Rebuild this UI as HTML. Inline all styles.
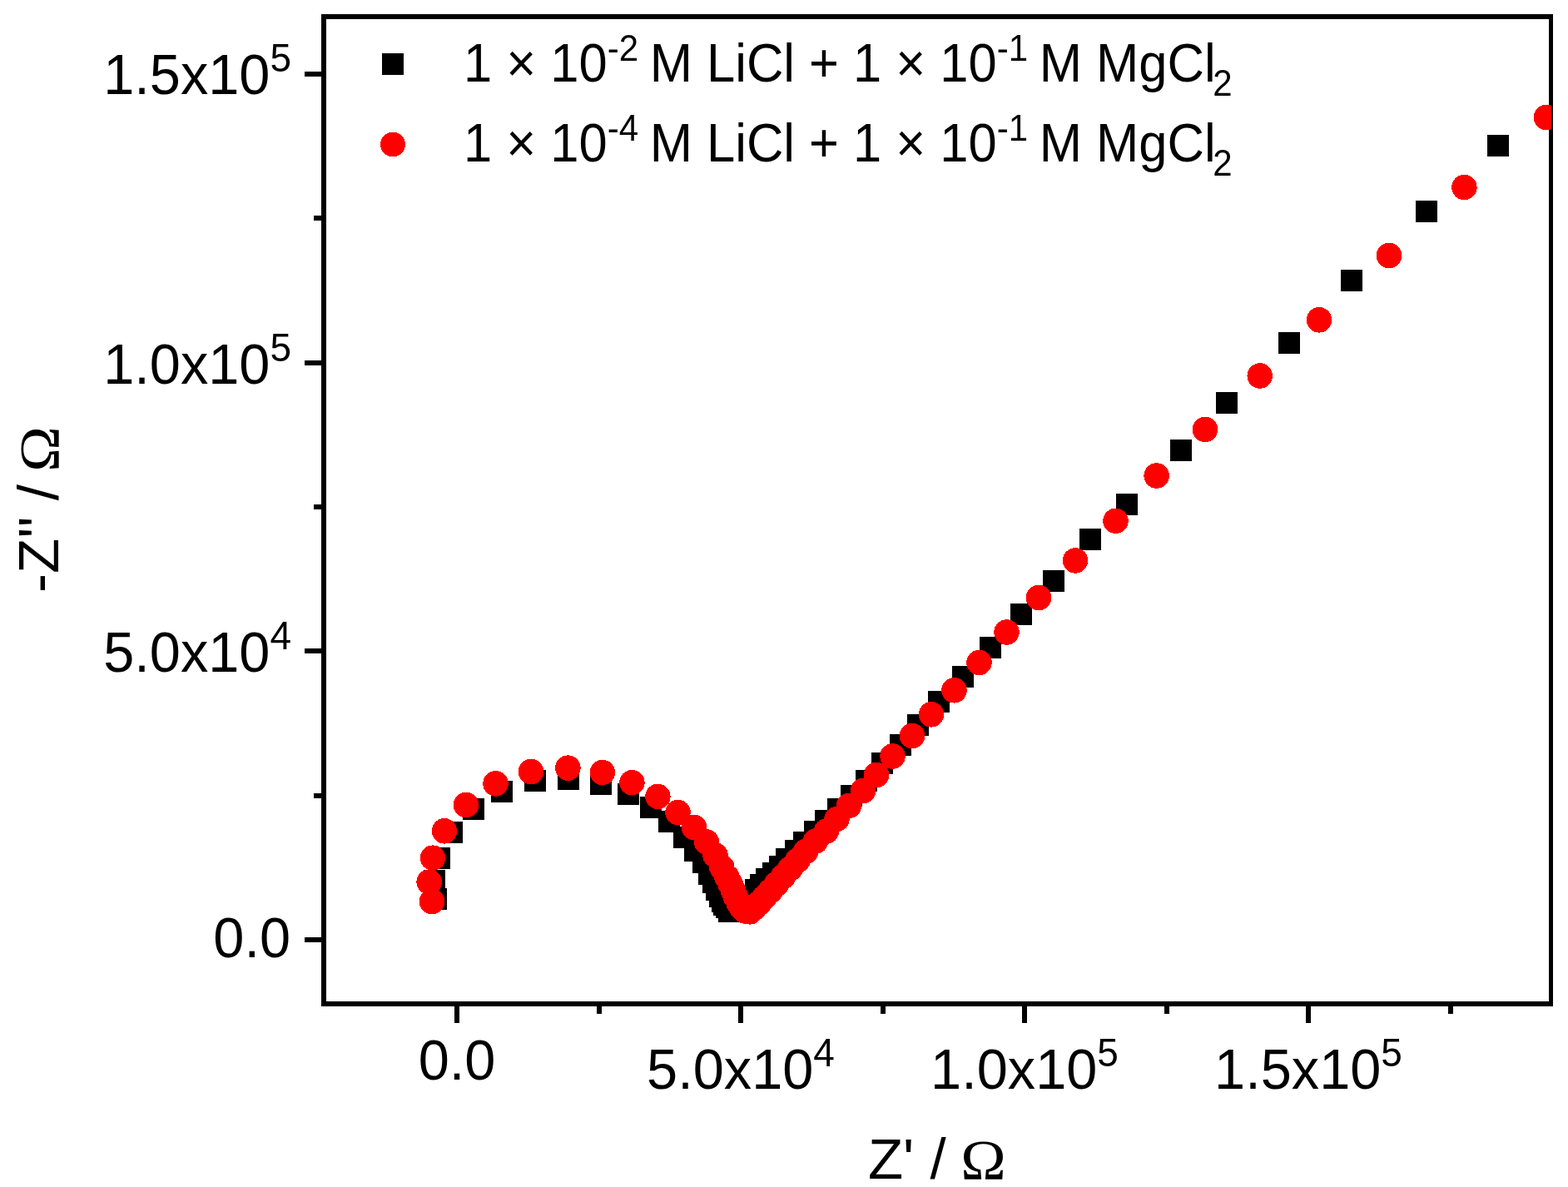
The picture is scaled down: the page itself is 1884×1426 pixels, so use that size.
<!DOCTYPE html>
<html><head><meta charset="utf-8"><title>Nyquist plot</title>
<style>html,body{margin:0;padding:0;background:#fff;}body{width:1884px;height:1426px;overflow:hidden;}svg{display:block;}text{font-family:"Liberation Sans", Arial, Helvetica, sans-serif;fill:#000;}.om{font-family:"Liberation Serif", "Times New Roman", Times, serif;}</style>
</head><body>
<svg width="1884" height="1426" viewBox="0 0 1884 1426">
<rect x="0" y="0" width="1884" height="1426" fill="#fff"/>
<defs><clipPath id="pc"><rect x="389" y="20" width="1475" height="1186"/></clipPath></defs>
<g fill="#000" shape-rendering="crispEdges">
<rect x="386" y="17" width="6" height="1192"/>
<rect x="1861" y="17" width="5" height="1192"/>
<rect x="386" y="17" width="1480" height="6"/>
<rect x="386" y="1203" width="1480" height="6"/>
<rect x="366" y="1126.0" width="22" height="6"/>
<rect x="366" y="779.3" width="22" height="6"/>
<rect x="366" y="432.7" width="22" height="6"/>
<rect x="366" y="86.0" width="22" height="6"/>
<rect x="377" y="952.7" width="11" height="6"/>
<rect x="377" y="606.0" width="11" height="6"/>
<rect x="377" y="259.3" width="11" height="6"/>
<rect x="546.0" y="1207" width="6" height="22"/>
<rect x="887.0" y="1207" width="6" height="22"/>
<rect x="1228.0" y="1207" width="6" height="22"/>
<rect x="1569.0" y="1207" width="6" height="22"/>
<rect x="716.5" y="1207" width="6" height="11"/>
<rect x="1057.5" y="1207" width="6" height="11"/>
<rect x="1398.5" y="1207" width="6" height="11"/>
<rect x="1739.5" y="1207" width="6" height="11"/>
</g>
<g clip-path="url(#pc)" shape-rendering="crispEdges">
<g fill="#000">
<rect x="511.0" y="1066.8" width="26" height="26"/>
<rect x="509.0" y="1045.0" width="26" height="26"/>
<rect x="515.0" y="1018.0" width="26" height="26"/>
<rect x="530.0" y="987.2" width="26" height="26"/>
<rect x="556.0" y="959.3" width="26" height="26"/>
<rect x="590.0" y="937.5" width="26" height="26"/>
<rect x="630.0" y="924.8" width="26" height="26"/>
<rect x="670.4" y="922.8" width="26" height="26"/>
<rect x="709.3" y="928.8" width="26" height="26"/>
<rect x="742.0" y="940.5" width="26" height="26"/>
<rect x="769.2" y="956.7" width="26" height="26"/>
<rect x="791.3" y="974.3" width="26" height="26"/>
<rect x="809.4" y="992.5" width="26" height="26"/>
<rect x="822.2" y="1008.6" width="26" height="26"/>
<rect x="832.1" y="1022.9" width="26" height="26"/>
<rect x="839.3" y="1036.9" width="26" height="26"/>
<rect x="844.2" y="1047.2" width="26" height="26"/>
<rect x="848.2" y="1055.7" width="26" height="26"/>
<rect x="852.2" y="1063.9" width="26" height="26"/>
<rect x="855.3" y="1069.9" width="26" height="26"/>
<rect x="857.1" y="1073.7" width="26" height="26"/>
<rect x="859.5" y="1077.2" width="26" height="26"/>
<rect x="863.0" y="1081.5" width="26" height="26"/>
<rect x="868.0" y="1081.5" width="26" height="26"/>
<rect x="873.5" y="1078.5" width="26" height="26"/>
<rect x="879.0" y="1074.0" width="26" height="26"/>
<rect x="884.5" y="1069.0" width="26" height="26"/>
<rect x="889.5" y="1063.5" width="26" height="26"/>
<rect x="895.0" y="1056.2" width="26" height="26"/>
<rect x="901.3" y="1050.2" width="26" height="26"/>
<rect x="908.1" y="1042.9" width="26" height="26"/>
<rect x="916.1" y="1036.0" width="26" height="26"/>
<rect x="924.0" y="1028.0" width="26" height="26"/>
<rect x="932.0" y="1019.0" width="26" height="26"/>
<rect x="943.0" y="1009.0" width="26" height="26"/>
<rect x="953.0" y="999.0" width="26" height="26"/>
<rect x="966.0" y="986.0" width="26" height="26"/>
<rect x="979.0" y="973.0" width="26" height="26"/>
<rect x="994.0" y="959.0" width="26" height="26"/>
<rect x="1010.0" y="942.5" width="26" height="26"/>
<rect x="1027.5" y="925.0" width="26" height="26"/>
<rect x="1047.0" y="904.3" width="26" height="26"/>
<rect x="1069.0" y="881.5" width="26" height="26"/>
<rect x="1090.4" y="858.0" width="26" height="26"/>
<rect x="1115.4" y="829.8" width="26" height="26"/>
<rect x="1143.5" y="799.5" width="26" height="26"/>
<rect x="1177.0" y="764.8" width="26" height="26"/>
<rect x="1214.0" y="724.5" width="26" height="26"/>
<rect x="1253.0" y="684.9" width="26" height="26"/>
<rect x="1296.5" y="635.0" width="26" height="26"/>
<rect x="1341.0" y="592.8" width="26" height="26"/>
<rect x="1405.5" y="528.0" width="26" height="26"/>
<rect x="1460.5" y="471.3" width="26" height="26"/>
<rect x="1536.0" y="399.0" width="26" height="26"/>
<rect x="1611.0" y="323.8" width="26" height="26"/>
<rect x="1700.5" y="241.0" width="26" height="26"/>
<rect x="1787.0" y="162.0" width="26" height="26"/>
</g><g fill="#f00">
<circle cx="519.0" cy="1083.0" r="15.25"/>
<circle cx="515.6" cy="1059.5" r="15.25"/>
<circle cx="520.0" cy="1030.6" r="15.25"/>
<circle cx="534.0" cy="998.3" r="15.25"/>
<circle cx="560.0" cy="967.0" r="15.25"/>
<circle cx="595.5" cy="941.4" r="15.25"/>
<circle cx="638.0" cy="927.0" r="15.25"/>
<circle cx="682.4" cy="922.6" r="15.25"/>
<circle cx="723.8" cy="928.0" r="15.25"/>
<circle cx="759.4" cy="940.1" r="15.25"/>
<circle cx="790.4" cy="956.9" r="15.25"/>
<circle cx="814.5" cy="976.0" r="15.25"/>
<circle cx="834.0" cy="994.0" r="15.25"/>
<circle cx="849.0" cy="1011.5" r="15.25"/>
<circle cx="859.5" cy="1027.5" r="15.25"/>
<circle cx="867.3" cy="1042.0" r="15.25"/>
<circle cx="873.5" cy="1053.8" r="15.25"/>
<circle cx="877.7" cy="1062.0" r="15.25"/>
<circle cx="881.0" cy="1070.0" r="15.25"/>
<circle cx="884.0" cy="1077.5" r="15.25"/>
<circle cx="887.5" cy="1084.5" r="15.25"/>
<circle cx="891.0" cy="1090.0" r="15.25"/>
<circle cx="895.5" cy="1094.5" r="15.25"/>
<circle cx="901.0" cy="1095.3" r="15.25"/>
<circle cx="906.0" cy="1091.0" r="15.25"/>
<circle cx="912.0" cy="1085.0" r="15.25"/>
<circle cx="918.5" cy="1078.0" r="15.25"/>
<circle cx="925.5" cy="1070.5" r="15.25"/>
<circle cx="933.0" cy="1062.0" r="15.25"/>
<circle cx="941.0" cy="1053.0" r="15.25"/>
<circle cx="949.5" cy="1043.5" r="15.25"/>
<circle cx="958.5" cy="1033.5" r="15.25"/>
<circle cx="968.0" cy="1023.0" r="15.25"/>
<circle cx="980.0" cy="1010.5" r="15.25"/>
<circle cx="993.0" cy="998.5" r="15.25"/>
<circle cx="1005.5" cy="984.0" r="15.25"/>
<circle cx="1020.0" cy="967.9" r="15.25"/>
<circle cx="1037.0" cy="950.0" r="15.25"/>
<circle cx="1053.0" cy="931.0" r="15.25"/>
<circle cx="1072.5" cy="908.5" r="15.25"/>
<circle cx="1096.0" cy="884.0" r="15.25"/>
<circle cx="1119.0" cy="858.3" r="15.25"/>
<circle cx="1146.5" cy="829.3" r="15.25"/>
<circle cx="1176.5" cy="796.0" r="15.25"/>
<circle cx="1209.5" cy="759.5" r="15.25"/>
<circle cx="1248.0" cy="718.0" r="15.25"/>
<circle cx="1292.0" cy="673.4" r="15.25"/>
<circle cx="1340.5" cy="625.8" r="15.25"/>
<circle cx="1389.6" cy="571.5" r="15.25"/>
<circle cx="1448.0" cy="515.9" r="15.25"/>
<circle cx="1513.7" cy="451.5" r="15.25"/>
<circle cx="1585.0" cy="384.3" r="15.25"/>
<circle cx="1669.0" cy="307.0" r="15.25"/>
<circle cx="1759.4" cy="225.0" r="15.25"/>
<circle cx="1858.0" cy="141.0" r="15.25"/>
</g></g>
<text transform="translate(349.00,1149.50) scale(1,1.04)" font-size="66.7" text-anchor="end">0.0</text>
<text transform="translate(350.00,807.20) scale(1,1.04)" font-size="66.7" text-anchor="end">5.0x10<tspan font-size="46" dy="-26">4</tspan></text>
<text transform="translate(350.00,461.30) scale(1,1.04)" font-size="66.7" text-anchor="end">1.0x10<tspan font-size="46" dy="-26">5</tspan></text>
<text transform="translate(350.00,112.90) scale(1,1.04)" font-size="66.7" text-anchor="end">1.5x10<tspan font-size="46" dy="-26">5</tspan></text>
<text transform="translate(549.00,1297.00) scale(1,1.04)" font-size="66.7" text-anchor="middle">0.0</text>
<text transform="translate(890.00,1308.00) scale(1,1.04)" font-size="66.7" text-anchor="middle">5.0x10<tspan font-size="46" dy="-26">4</tspan></text>
<text transform="translate(1231.00,1308.00) scale(1,1.04)" font-size="66.7" text-anchor="middle">1.0x10<tspan font-size="46" dy="-26">5</tspan></text>
<text transform="translate(1572.00,1308.00) scale(1,1.04)" font-size="66.7" text-anchor="middle">1.5x10<tspan font-size="46" dy="-26">5</tspan></text>
<text transform="translate(1042.90,1416.00) scale(1.036,1.04)" font-size="66.7">Z' /</text>
<text transform="translate(1154.20,1416.00) scale(1.1,1.02)" font-size="66.7" class="om">&#937;</text>
<text transform="translate(70.00,712.00) rotate(-90) scale(1.036,1.04)" font-size="66.7">-Z'' /</text>
<text transform="translate(70.00,566.75) rotate(-90) scale(1.1,1.02)" font-size="66.7" class="om">&#937;</text>
<g shape-rendering="crispEdges"><rect x="459" y="64" width="26" height="26" fill="#000"/>
<circle cx="472" cy="173.5" r="14.9" fill="#f00"/></g>
<text transform="translate(557.00,98.00) scale(1,1.04)" font-size="61.5">1 &#215; 10<tspan font-size="42" dy="-24">-2</tspan><tspan dy="24" dx="-3.4"> M LiCl + 1 &#215; 10</tspan><tspan font-size="42" dy="-24">-1</tspan><tspan dy="24" dx="-3.4"> M MgCl</tspan><tspan font-size="42" dy="16.5" dx="-3.4">2</tspan></text>
<text transform="translate(557.00,194.00) scale(1,1.04)" font-size="61.5">1 &#215; 10<tspan font-size="42" dy="-24">-4</tspan><tspan dy="24" dx="-3.4"> M LiCl + 1 &#215; 10</tspan><tspan font-size="42" dy="-24">-1</tspan><tspan dy="24" dx="-3.4"> M MgCl</tspan><tspan font-size="42" dy="16.5" dx="-3.4">2</tspan></text>
</svg></body></html>
